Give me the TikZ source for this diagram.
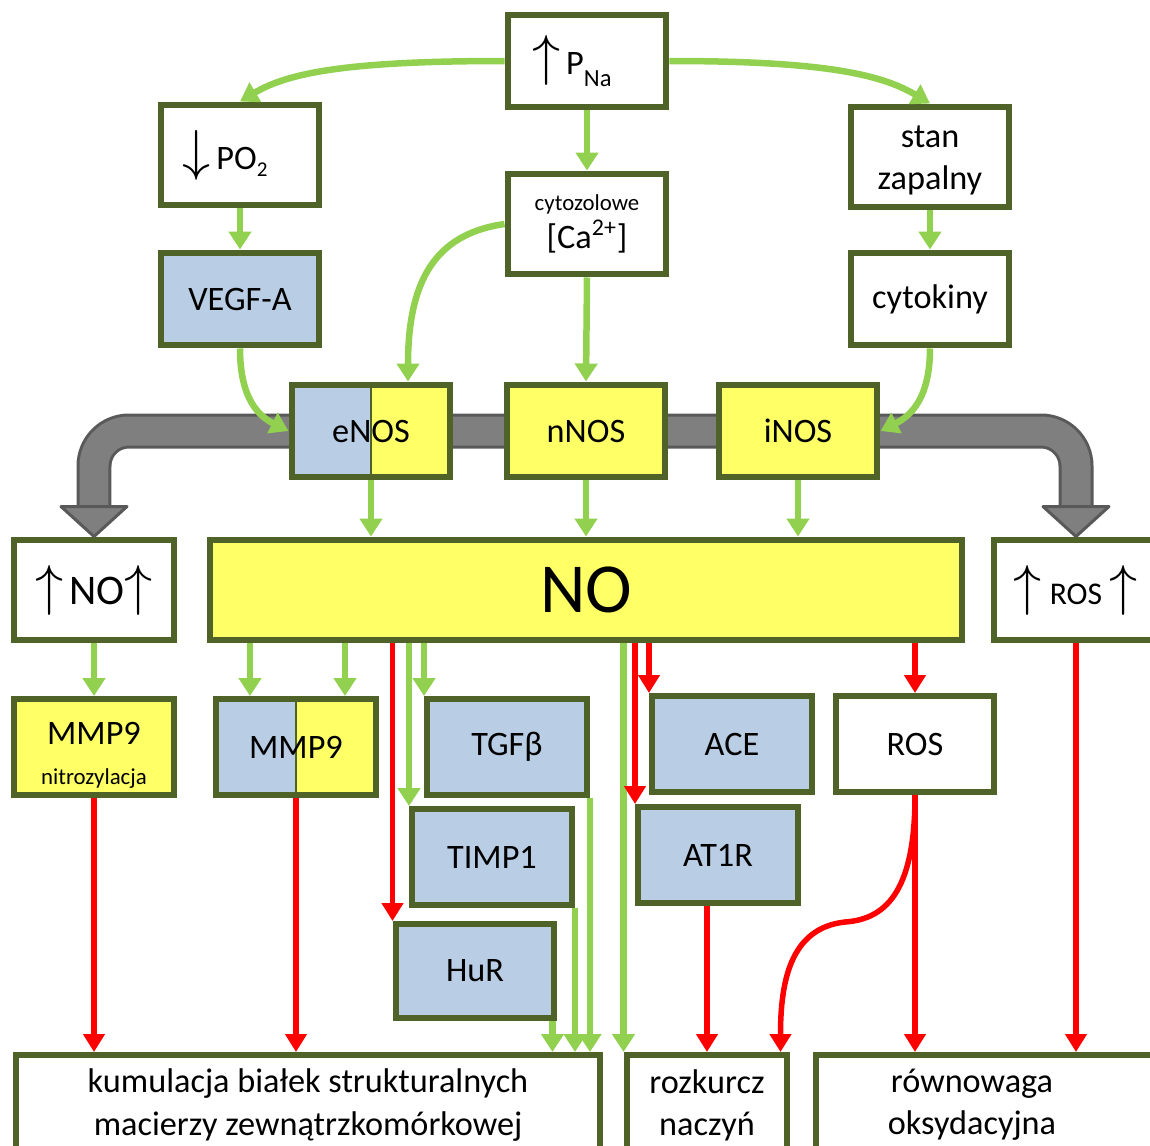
\documentclass[tikz,border=0pt]{standalone}
\usepackage{fontspec}
\setmainfont{Carlito}
\usetikzlibrary{arrows.meta,backgrounds}

\definecolor{boxline}{HTML}{4F6228}
\definecolor{boxblue}{HTML}{B9CDE5}
\definecolor{boxyellow}{HTML}{FFFF66}
\definecolor{arrowgreen}{HTML}{92D050}
\definecolor{arrowred}{HTML}{FF0000}
\definecolor{bandgray}{HTML}{7F7F7F}
\definecolor{banddark}{HTML}{595959}

\newcommand{\uparr}{\resizebox*{!}{1cm}{$\uparrow$}}
\newcommand{\downarr}{\resizebox*{!}{1cm}{$\downarrow$}}

\begin{document}
\begin{tikzpicture}[x=0.02cm, y=-0.02cm,
        box/.style=
            {
                rectangle,
                draw = boxline,
                line width = 0.12cm,
                fill = white,
                inner sep = 0pt,
                align = center,
                minimum width = 3.18cm,
                minimum height = 1.92cm,
                font = \fontsize{19.5}{24}\selectfont
            },
        bluebox/.style=
            {
                box,
                fill = boxblue
            },
        yellowbox/.style=
            {
                box,
                fill = boxyellow
            },
        halfbox/.style=
            {
                box,
                fill = boxyellow,
                path picture =
                    {
                        \fill[boxblue] (path picture bounding box.south west) rectangle (path picture bounding box.north);
                        \draw[boxline, line width = 0.6pt] (path picture bounding box.south) -- (path picture bounding box.north);
                    }
            },
        greenline/.style=
            {
                draw = arrowgreen,
                line width = 0.13cm,
                -{Triangle[length=0.36cm, width=0.44cm]}
            },
        redline/.style=
            {
                draw = arrowred,
                line width = 0.11cm,
                -{Triangle[length=0.36cm, width=0.42cm]}
            },
        band/.style=
            {
                draw = banddark,
                fill = bandgray,
                line width = 0.06cm,
                line join = round
            }
    ]

    \useasboundingbox (0,0) rectangle (1150,1146);
    \clip (0,0) rectangle (1150,1146);

    % top row
    \draw (587,61) node[box, minimum height=1.84cm] (pna) {\uparr\,P\raisebox{-7pt}{\fontsize{14}{14}\selectfont Na}\hspace*{0.6cm}};
    \draw (240,155) node[box, minimum height=2.02cm] (po2) {\downarr\,PO\raisebox{-4.5pt}{\fontsize{12}{12}\selectfont 2}\hspace*{0.6cm}};
    \draw (587,224) node[box, minimum height=2.02cm] (cyto) {{\fontsize{13}{15}\selectfont cytozolowe}\\[-2.4pt]{[}Ca\textsuperscript{2+}{]}};
    \draw (930,157) node[box, minimum height=2.02cm] (stan) {\rule{0pt}{16pt}stan\\zapalny};
    \draw (240,299) node[bluebox, minimum height=1.86cm] (vegf) {VEGF-A};
    \draw (930,299) node[box, minimum height=1.86cm] (cytok) {cytokiny};

    % NOS
    \draw (371,431) node[halfbox, minimum height=1.86cm] (enos) {eNOS};
    \draw (586,431) node[yellowbox, minimum height=1.86cm] (nnos) {nNOS};
    \draw (798,431) node[yellowbox, minimum height=1.86cm] (inos) {iNOS};

    \draw (94,590) node[box, minimum width=3.2cm, minimum height=2.02cm] (noup) {\uparr\,{\fontsize{24}{24}\selectfont NO}\uparr};
    \draw (586,590) node[yellowbox, minimum width=15.04cm, minimum height=2.02cm, font=\fontsize{40}{44}\selectfont] (no) {NO};
    \draw (1076,590) node[box, minimum width=3.3cm, minimum height=2.02cm] (rosup) {\uparr\ {\fontsize{18}{18}\selectfont ROS}\ \uparr};

    % gray band
    \begin{scope}[on background layer]
        \draw[banddark, line width=0.7cm, rounded corners=0.7cm] ([yshift=0.56cm]noup.north) -- (noup.north |- nnos.west) -- (rosup.north |- nnos.west) -- ([yshift=0.56cm]rosup.north);
        \draw[bandgray, line width=0.58cm, rounded corners=0.7cm] ([yshift=0.56cm]noup.north) -- (noup.north |- nnos.west) -- (rosup.north |- nnos.west) -- ([yshift=0.56cm]rosup.north);
    \end{scope}
    \draw[band] ([xshift=-0.66cm, yshift=0.6cm]noup.north) -- ([xshift=0.66cm, yshift=0.6cm]noup.north) -- (noup.north) -- cycle;
    \draw[band] ([xshift=-0.66cm, yshift=0.6cm]rosup.north) -- ([xshift=0.66cm, yshift=0.6cm]rosup.north) -- (rosup.north) -- cycle;

    % targets
    \draw (94,747) node[yellowbox, minimum width=3.2cm] (mmpn) {\rule{0pt}{22pt}MMP9\\[-1pt]{\fontsize{13}{15}\selectfont nitrozylacja}};
    \draw (296,747) node[halfbox, minimum width=3.22cm] (mmps) {MMP9};
    \draw (507,747) node[bluebox, minimum width=3.2cm] (tgfb) {TGFβ};
    \draw (492,857) node[bluebox, minimum width=3.2cm] (timp) {TIMP1};
    \draw (475,971) node[bluebox, minimum height=1.88cm] (hur) {HuR};
    \draw (732,744) node[bluebox, minimum width=3.2cm] (ace) {ACE};
    \draw (718,855) node[bluebox, minimum width=3.2cm] (at1r) {AT1R};
    \draw (915,744) node[box] (ros) {ROS};

    % effects
    \draw (308,1105) node[box, minimum width=11.68cm, minimum height=2cm] (kum) {kumulacja białek strukturalnych\\macierzy zewnątrzkomórkowej};
    \draw (707,1105) node[box, minimum width=3.22cm, minimum height=2cm] (rozk) {rozkurcz\\naczyń};
    \draw (992,1105) node[box, minimum width=7.04cm, minimum height=2cm] (rown) {równowaga\hspace*{0.8cm}\\oksydacyjna\hspace*{0.8cm}};

    \coordinate (enostop) at ([xshift=0.74cm]enos.north);
    \coordinate (ms1) at ([xshift=-0.92cm]mmps.north);
    \coordinate (ms2) at ([xshift=0.98cm]mmps.north);
    \coordinate (hurout) at ([xshift=-0.1cm]hur.south east);
    \coordinate (rosend) at ([xshift=-0.2cm]rozk.north east);
    \coordinate (rosbend) at (845,922);

    \draw[greenline] (pna.west) .. controls +(-150,0) and +(50,-30) .. (po2.north);
    \draw[greenline] (pna.east) .. controls +(150,0) and +(-50,-30) .. (stan.north);
    \draw[greenline] (pna.south) -- (cyto.north);
    \draw[greenline] (po2.south) -- (vegf.north);
    \draw[greenline] (stan.south) -- (cytok.north);
    \draw[greenline] (cyto.west) .. controls +(-70,10) and +(0,-100) .. (enostop);
    \draw[greenline] (cyto.south) -- (nnos.north);
    \draw[greenline] (vegf.south) .. controls +(0,50) and +(-30,-15) .. (enos.west);
    \draw[greenline] (cytok.south) .. controls +(0,50) and +(30,-15) .. (inos.east);

    \draw[greenline] (enos.south) -- (enos.south |- no.north);
    \draw[greenline] (nnos.south) -- (nnos.south |- no.north);
    \draw[greenline] (inos.south) -- (inos.south |- no.north);
    \draw[greenline] (noup.south) -- (mmpn.north);

    \draw[greenline] (ms1 |- no.south) -- (ms1);
    \draw[greenline] (ms2 |- no.south) -- (ms2);
    \draw[greenline] (tgfb.north west |- no.south) -- (tgfb.north west);
    \draw[greenline] (timp.north west |- no.south) -- (timp.north west);
    \draw[redline] (hur.north west |- no.south) -- (hur.north west);
    \draw[greenline] (rozk.north west |- no.south) -- (rozk.north west);
    \draw[redline] (at1r.north west |- no.south) -- (at1r.north west);
    \draw[redline] (ace.north west |- no.south) -- (ace.north west);
    \draw[redline] (ros.north |- no.south) -- (ros.north);

    \draw[redline] (mmpn.south) -- (mmpn.south |- kum.north);
    \draw[redline] (mmps.south) -- (mmps.south |- kum.north);
    \draw[greenline] (tgfb.south east) -- (tgfb.south east |- kum.north);
    \draw[greenline] (timp.south east) -- (timp.south east |- kum.north);
    \draw[greenline] (hurout) -- (hurout |- kum.north);
    \draw[redline] (at1r.south -| rozk.north) -- (rozk.north);
    \draw[redline] (ros.south) .. controls +(0,90) and +(45,-3) .. (rosbend) .. controls +(-55,6) and +(0,-70) .. (rosend);
    \draw[redline] (ros.south) -- (ros.south |- rown.north);
    \draw[redline] (rosup.south) -- (rosup.south |- rown.north);

\end{tikzpicture}
\end{document}
